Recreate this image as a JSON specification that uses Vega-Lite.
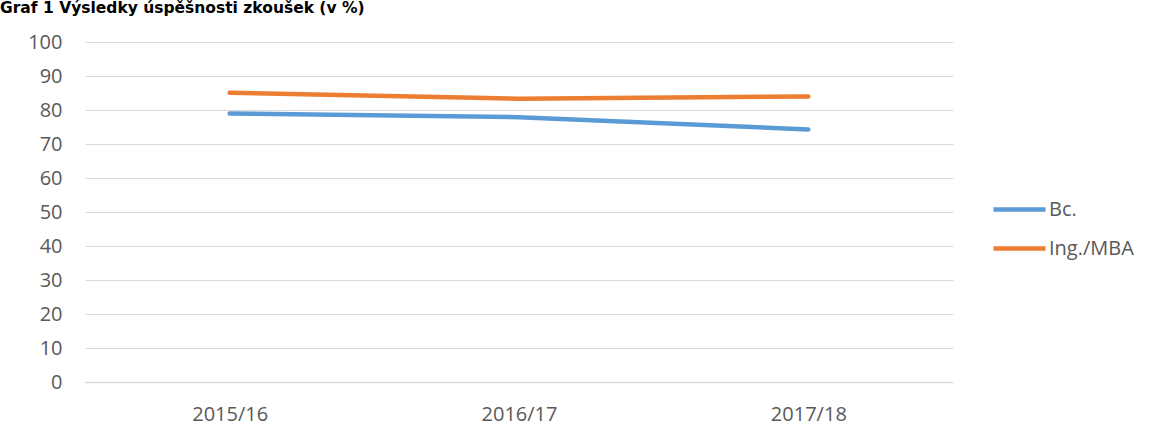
{
  "$schema": "https://vega.github.io/schema/vega-lite/v6.json",
  "width": 868,
  "height": 340,
  "autosize": {"type": "none"},
  "padding": {"left": 85, "top": 42, "right": 204, "bottom": 58},
  "background": "white",
  "title": {
    "text": "Graf 1 Výsledky úspěšnosti zkoušek (v %)",
    "anchor": "start",
    "frame": "group",
    "dx": -85,
    "dy": -4,
    "offset": 0,
    "baseline": "alphabetic",
    "font": "DejaVu Sans",
    "fontWeight": "bold",
    "fontSize": 15.5,
    "color": "#000000"
  },
  "config": {
    "view": {"stroke": null},
    "font": "Open Sans"
  },
  "data": {
    "values": [
      {"rok": "2015/16", "typ": "Bc.", "hodnota": 79.0},
      {"rok": "2016/17", "typ": "Bc.", "hodnota": 77.9},
      {"rok": "2017/18", "typ": "Bc.", "hodnota": 74.3},
      {"rok": "2015/16", "typ": "Ing./MBA", "hodnota": 85.1},
      {"rok": "2016/17", "typ": "Ing./MBA", "hodnota": 83.3},
      {"rok": "2017/18", "typ": "Ing./MBA", "hodnota": 84.0}
    ]
  },
  "mark": {"type": "line", "strokeWidth": 4.5, "strokeCap": "round", "strokeJoin": "round"},
  "encoding": {
    "x": {
      "field": "rok",
      "type": "ordinal",
      "scale": {"type": "point", "padding": 0.5},
      "axis": {
        "title": null,
        "labelAngle": 0,
        "ticks": false,
        "grid": false,
        "domain": true,
        "domainColor": "#d9d9d9",
        "domainWidth": 1.5,
        "labelPadding": 22,
        "labelFont": "Open Sans",
        "labelFontSize": 20,
        "labelColor": "#595959"
      }
    },
    "y": {
      "field": "hodnota",
      "type": "quantitative",
      "scale": {"domain": [0, 100], "nice": false},
      "axis": {
        "title": null,
        "values": [0, 10, 20, 30, 40, 50, 60, 70, 80, 90, 100],
        "ticks": false,
        "domain": false,
        "grid": true,
        "gridColor": "#d9d9d9",
        "gridWidth": 1.2,
        "labelPadding": 23,
        "labelFont": "Open Sans",
        "labelFontSize": 20,
        "labelColor": "#595959"
      }
    },
    "color": {
      "field": "typ",
      "type": "nominal",
      "scale": {"domain": ["Bc.", "Ing./MBA"], "range": ["#5B9BD5", "#ED7D31"]},
      "legend": {
        "title": null,
        "orient": "none",
        "legendX": 906,
        "legendY": 139,
        "direction": "vertical",
        "symbolType": "stroke",
        "symbolSize": 2704,
        "symbolStrokeWidth": 4.5,
        "rowPadding": -5,
        "labelOffset": 1,
        "labelFont": "Open Sans",
        "labelFontSize": 20,
        "labelColor": "#595959"
      }
    }
  }
}
